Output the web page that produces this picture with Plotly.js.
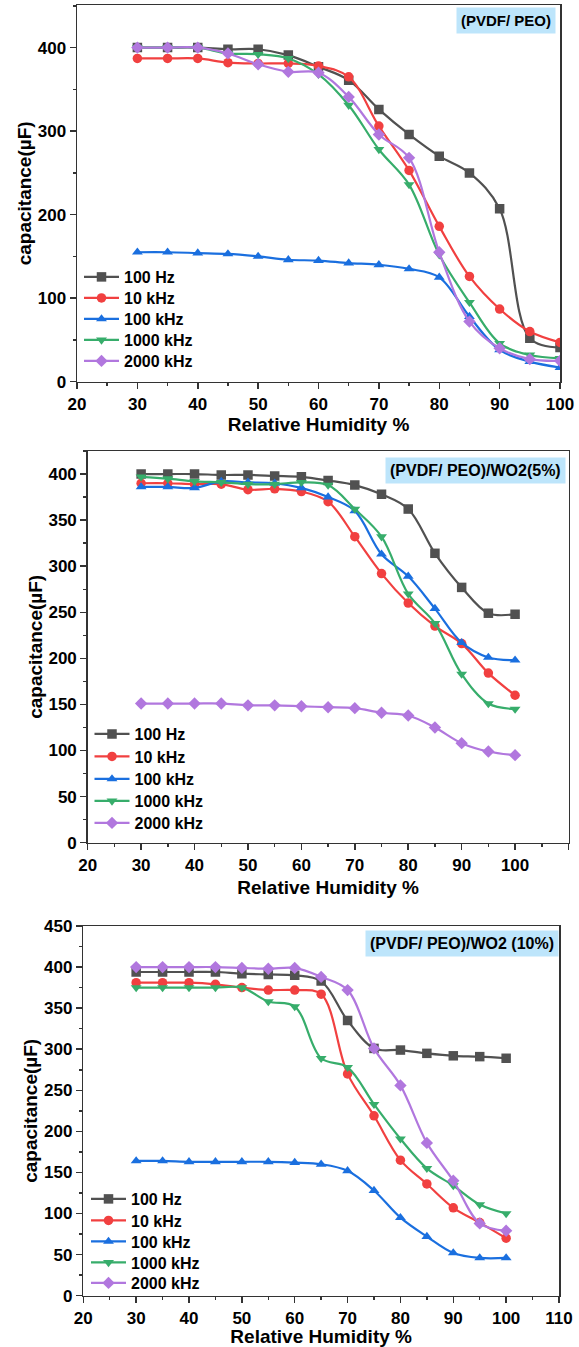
<!DOCTYPE html>
<html>
<head>
<meta charset="utf-8">
<script src="https://cdn.plot.ly/plotly-3.0.1.min.js"></script>
<style>html,body{margin:0;padding:0;background:#fff;} #chart{width:579px;height:1347px;}</style>
</head>
<body>
<div id="chart"></div>
<script>
// ---------- data ----------
const humidity = [30, 35, 40, 45, 50, 55, 60, 65, 70, 75, 80, 85, 90, 95, 100];
const seriesNames = ["100 Hz", "10 kHz", "100 kHz", "1000 kHz", "2000 kHz"];
const panelLabels = ["(PVDF/ PEO)", "(PVDF/ PEO)/WO2(5%)", "(PVDF/ PEO)/WO2 (10%)"];

// Panel 1: PVDF/PEO
const p1_100Hz   = [400, 400, 400, 398, 398, 391, 377, 361, 326, 296, 270, 250, 207, 52, 41];
const p1_10kHz   = [387, 387, 387, 382, 381, 381, 378, 365, 306, 253, 186, 126, 87, 60, 47];
const p1_100kHz  = [155, 155, 154, 153, 150, 146, 145, 142, 140, 135, 125, 78, 38, 24, 17];
const p1_1000kHz = [400, 400, 400, 393, 392, 387, 368, 331, 278, 236, 152, 95, 46, 32, 28];
const p1_2000kHz = [400, 400, 400, 393, 380, 371, 370, 341, 296, 268, 155, 72, 40, 27, 25];

// Panel 2: (PVDF/PEO)/WO2 5%
const p2_100Hz   = [400, 400, 400, 399, 399, 398, 397, 393, 388, 378, 362, 314, 277, 249, 248];
const p2_10kHz   = [390, 390, 389, 389, 383, 384, 381, 370, 332, 292, 260, 235, 216, 184, 160];
const p2_100kHz  = [386, 386, 385, 392, 391, 390, 385, 375, 360, 313, 289, 254, 217, 201, 198];
const p2_1000kHz = [397, 395, 392, 391, 389, 389, 391, 388, 362, 332, 270, 238, 183, 151, 145];
const p2_2000kHz = [151, 151, 151, 151, 149, 149, 148, 147, 146, 141, 138, 125, 108, 99, 95];

// Panel 3: (PVDF/PEO)/WO2 10%
const p3_100Hz   = [394, 394, 394, 394, 392, 391, 390, 383, 335, 301, 299, 295, 292, 291, 289];
const p3_10kHz   = [381, 381, 381, 379, 375, 372, 372, 367, 270, 219, 165, 136, 107, 89, 70];
const p3_100kHz  = [164, 164, 163, 163, 163, 163, 162, 160, 152, 128, 95, 72, 52, 46, 46];
const p3_1000kHz = [375, 375, 375, 375, 375, 358, 352, 289, 278, 233, 191, 155, 134, 111, 100];
const p3_2000kHz = [400, 400, 400, 400, 399, 398, 399, 388, 372, 301, 256, 186, 140, 88, 79];

// ---------- styles ----------
const colors  = ["#515151", "#F14040", "#1A6FDF", "#37AD6B", "#B177DE"];
const symbols = ["square", "circle", "triangle-up", "triangle-down", "diamond"];
const FONT = "Liberation Sans, Arial, Helvetica, sans-serif";

const panels = [
  [p1_100Hz, p1_10kHz, p1_100kHz, p1_1000kHz, p1_2000kHz],
  [p2_100Hz, p2_10kHz, p2_100kHz, p2_1000kHz, p2_2000kHz],
  [p3_100Hz, p3_10kHz, p3_100kHz, p3_1000kHz, p3_2000kHz]
];

const W = 579, H = 1347;
const px = v => v / W;
const py = v => 1 - v / H;

// legend entry placement (pixels): left edge per panel, text centre per row
const legendLeft = [79, 89.5, 86];
const legendRows = [
  [277, 298, 319, 340, 361],
  [734, 756.5, 779, 801, 823],
  [1199, 1220.5, 1241.5, 1262.5, 1283]
];
const LEG_OFFSET = 17; // legend top -> first text centre

const traces = [];
const legends = {};
let n = 0;
panels.forEach((pan, pi) => {
  pan.forEach((ys, si) => {
    n += 1;
    const lname = n === 1 ? "legend" : "legend" + n;
    legends[lname] = {
      x: px(legendLeft[pi]), y: py(legendRows[pi][si] - LEG_OFFSET),
      xanchor: "left", yanchor: "top",
      bgcolor: "rgba(0,0,0,0)", borderwidth: 0,
      font: {family: FONT, size: 16, color: "#000", weight: "bold"},
      itemwidth: 35
    };
    traces.push({
      x: humidity, y: ys, name: seriesNames[si],
      type: "scatter", mode: "lines+markers",
      xaxis: pi === 0 ? "x" : "x" + (pi + 1),
      yaxis: pi === 0 ? "y" : "y" + (pi + 1),
      legend: lname,
      line: {color: colors[si], width: 2.2, shape: "spline", smoothing: 1},
      marker: {color: colors[si], symbol: symbols[si], size: 9.5}
    });
  });
});

function xax(domain, range, anchor, standoff) {
  return {
    domain: domain, range: range, anchor: anchor,
    dtick: 10, tick0: 0, ticks: "outside", ticklen: 6, tickwidth: 1.5, tickcolor: "#333",
    minor: {dtick: 5, ticks: "outside", ticklen: 3, tickwidth: 1.5, tickcolor: "#333"},
    showline: true, linecolor: "#333", linewidth: 1.5, mirror: true,
    showgrid: false, zeroline: false,
    tickfont: {family: FONT, size: 17, color: "#000", weight: "bold"},
    title: {text: "Relative Humidity %", font: {family: FONT, size: 19, color: "#000", weight: "bold"}, standoff: standoff},
    automargin: false
  };
}
function yax(domain, range, anchor, dtick, minorDtick, standoff) {
  return {
    domain: domain, range: range, anchor: anchor,
    dtick: dtick, tick0: 0, ticks: "outside", ticklen: 6, tickwidth: 1.5, tickcolor: "#333",
    minor: {dtick: minorDtick, ticks: "outside", ticklen: 3, tickwidth: 1.5, tickcolor: "#333"},
    showline: true, linecolor: "#333", linewidth: 1.5, mirror: true,
    showgrid: false, zeroline: false,
    tickfont: {family: FONT, size: 17, color: "#000", weight: "bold"},
    title: {text: "capacitance(µF)", font: {family: FONT, size: 19, color: "#000", weight: "bold"}, standoff: standoff},
    automargin: false
  };
}

function label(text, cx, cy, size) {
  return {
    text: text, xref: "paper", yref: "paper", x: px(cx), y: py(cy),
    xanchor: "center", yanchor: "middle", showarrow: false,
    bgcolor: "#BDE5FB", borderpad: 4,
    font: {family: FONT, size: size, color: "#000", weight: "bold"}
  };
}

const layout = Object.assign({
  width: W, height: H,
  margin: {l: 0, r: 0, t: 0, b: 0},
  paper_bgcolor: "#fff", plot_bgcolor: "#fff",
  showlegend: true,
  xaxis:  xax([px(77), px(560)], [20, 100], "y", 2),
  yaxis:  yax([py(381.7), py(5)], [0, 451], "x", 100, 50, 1),
  xaxis2: xax([px(87.7), px(568.5)], [20, 110], "y2", 7),
  yaxis2: yax([py(842.7), py(451)], [0, 425], "x2", 50, 25, 1),
  xaxis3: xax([px(83.3), px(559)], [20, 110], "y3", 0),
  yaxis3: yax([py(1295.7), py(926)], [0, 450], "x3", 50, 25, 1),
  annotations: [
    label(panelLabels[0], 506, 21, 15),
    label(panelLabels[1], 475, 470, 16),
    label(panelLabels[2], 462, 943, 16)
  ]
}, legends);

Plotly.newPlot("chart", traces, layout, {staticPlot: true, displayModeBar: false});
</script>
</body>
</html>
